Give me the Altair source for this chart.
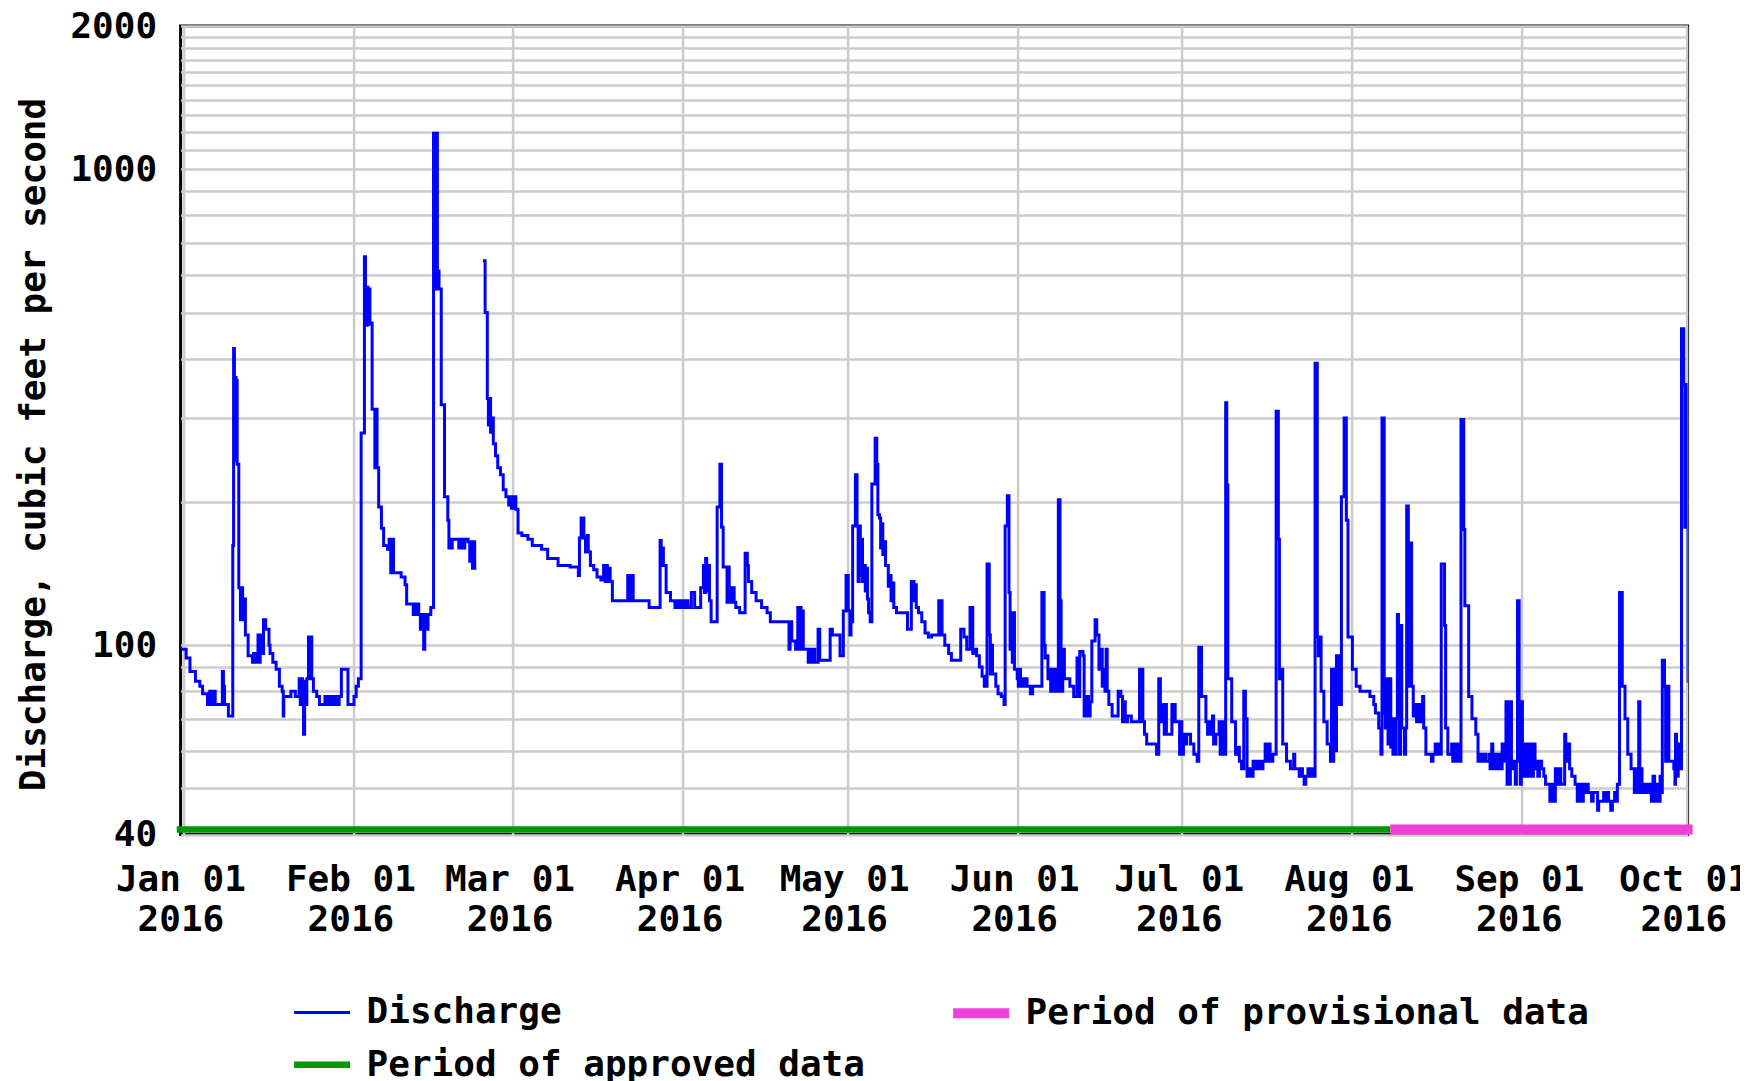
import altair as alt
import pandas as pd

FONT = "DejaVu Sans Mono"

# (days since 2016-01-01 00:00, discharge in cubic feet per second)
discharge_before_gap = [
    (-0.5, 98), (0.5, 94), (1.2, 88), (2.2, 84), (3.0, 82), (3.5, 79), (4.4, 75),
    (4.8, 80), (5.0, 75), (5.2, 80), (5.4, 75), (5.6, 80), (5.8, 75),
    (7.1, 88), (7.3, 82), (7.5, 75), (8.2, 71),
    (9.0, 162), (9.15, 420), (9.3, 360), (9.4, 250), (9.5, 365), (9.6, 245), (9.7, 360), (9.8, 240),
    (10.1, 132), (10.4, 113), (10.6, 132), (10.8, 113), (11.0, 125), (11.3, 105), (11.8, 95),
    (12.6, 92), (12.8, 96), (13.0, 92), (13.2, 96), (13.4, 92), (13.6, 105), (13.8, 92), (14.0, 105), (14.2, 96),
    (14.6, 113), (15.0, 108), (15.6, 100), (15.8, 96), (16.3, 92), (16.9, 89), (17.5, 82), (18.0, 80),
    (18.2, 71), (18.3, 78), (19.6, 80), (20.4, 78),
    (21.1, 85), (21.3, 75), (21.5, 85), (21.7, 75), (21.9, 65), (22.1, 84), (22.3, 75), (22.5, 85),
    (22.8, 104), (23.0, 85), (23.2, 104), (23.4, 85), (23.7, 80), (24.3, 78), (24.8, 75),
    (25.8, 78), (26.1, 75), (26.4, 78), (26.7, 75), (27.0, 78), (27.3, 75), (27.6, 78), (27.9, 75),
    (28.4, 78), (28.8, 89), (30.0, 75), (31.1, 78), (31.5, 82), (31.9, 85),
    (32.4, 279), (33.0, 655), (33.2, 560), (33.35, 470), (33.5, 565), (33.65, 472), (33.8, 560), (34.0, 475),
    (34.4, 313), (34.9, 236), (35.1, 313), (35.3, 236), (35.6, 195), (36.1, 176), (36.5, 162), (37.2, 159),
    (37.5, 167), (37.8, 142), (38.0, 167), (38.3, 142), (39.7, 139), (40.4, 134), (40.7, 122), (41.9, 116),
    (42.4, 122), (42.9, 116), (43.2, 108), (43.5, 116), (43.8, 98), (44.0, 116), (44.3, 108), (44.6, 116),
    (45.1, 120),
    (45.6, 1190), (45.8, 560), (45.9, 1190), (46.0, 560), (46.1, 1190), (46.3, 611), (46.6, 560), (47.0, 320),
    (47.6, 205), (48.2, 183), (48.4, 160), (48.6, 167), (48.8, 160), (49.0, 167), (50.2, 160), (50.5, 167),
    (51.0, 160), (51.3, 167), (51.9, 165), (52.2, 150), (52.5, 165), (52.7, 145), (52.9, 165), (53.1, 145),
    (53.4, 145),
]

discharge_after_gap = [
    (54.6, 642), (55.0, 500), (55.4, 330), (55.6, 290), (55.8, 330), (56.0, 280), (56.2, 300), (56.5, 265),
    (56.9, 250), (57.3, 236), (57.8, 228), (58.3, 212), (58.8, 205), (59.3, 197), (59.6, 205), (59.8, 194),
    (60.0, 205), (60.2, 194), (60.4, 205), (60.6, 193), (61.0, 172), (61.7, 170), (62.8, 167), (63.6, 162),
    (65.3, 159), (66.4, 152), (68.3, 147), (70.5, 146), (72.0, 140), (72.2, 168), (72.5, 185), (73.0, 168),
    (73.3, 157), (73.6, 170), (73.8, 157), (74.2, 147), (74.8, 144), (75.4, 139), (76.1, 137), (76.6, 147),
    (76.9, 136), (77.1, 147), (77.3, 136), (77.5, 145), (77.8, 136), (78.2, 124), (81.0, 140), (81.2, 124),
    (81.4, 140), (81.6, 124), (81.8, 140), (82.0, 124), (84.9, 120), (86.9, 166), (87.1, 147), (87.3, 160),
    (87.5, 147), (88.0, 129), (88.8, 124), (89.6, 120), (89.9, 124), (90.2, 120), (90.5, 124), (90.8, 120),
    (91.1, 124), (91.4, 120), (91.7, 124), (92.0, 120), (92.6, 129), (93.2, 120), (94.3, 132), (94.8, 147),
    (95.0, 129), (95.2, 152), (95.4, 130), (95.6, 147), (95.9, 124), (96.2, 112), (97.3, 195), (97.8, 240),
    (98.1, 177), (98.4, 146), (98.9, 146), (99.1, 123), (99.3, 146), (99.5, 123), (99.8, 132), (100.0, 123),
    (100.2, 132), (100.4, 123), (100.7, 120), (101.4, 117), (102.4, 156), (102.8, 147), (103.0, 136),
    (103.6, 129), (104.4, 124), (105.4, 120), (106.4, 117), (107.0, 112),
    (110.4, 98), (110.6, 112), (110.9, 102), (111.6, 98), (112.0, 120), (112.2, 98), (112.4, 120), (112.6, 98),
    (112.8, 118), (113.0, 98), (113.9, 92), (114.1, 98), (114.3, 92), (114.5, 98), (114.7, 92), (114.9, 98),
    (115.1, 92), (115.7, 108), (116.0, 93), (117.9, 108), (118.3, 105), (119.7, 95), (120.3, 118),
    (120.8, 140), (121.2, 118), (121.5, 105), (121.7, 112), (122.0, 178), (122.5, 228), (122.8, 178),
    (123.0, 136), (123.2, 178), (123.4, 140), (123.6, 167), (123.8, 136), (124.1, 147), (124.3, 130),
    (124.5, 145), (124.7, 125), (124.9, 117), (125.2, 112), (125.5, 218), (126.1, 272), (126.4, 240),
    (126.6, 188), (126.9, 185), (127.1, 160), (127.3, 180), (127.5, 155), (127.8, 165), (128.0, 147),
    (128.3, 147), (128.5, 133), (128.8, 140), (129.0, 124), (129.3, 135), (129.5, 120), (130.0, 117),
    (132.0, 108), (132.7, 136), (133.2, 124), (133.4, 134), (133.6, 120), (134.0, 117), (134.6, 112),
    (135.2, 106), (135.8, 104), (136.4, 105), (137.7, 124), (137.9, 105), (138.1, 124), (138.3, 105),
    (138.8, 100), (139.5, 96), (140.0, 93), (141.7, 108), (142.3, 104), (142.8, 98), (143.4, 120), (143.9, 96),
    (144.4, 98), (144.6, 95), (145.1, 90), (145.6, 86), (146.0, 82), (146.5, 148), (146.9, 105), (147.1, 87),
    (147.3, 100), (147.5, 87), (148.1, 82), (148.5, 79), (149.1, 78), (149.6, 75), (149.8, 178), (150.2, 206),
    (150.5, 129), (150.7, 98), (150.9, 117), (151.1, 92), (151.3, 117), (151.5, 89), (152.0, 85), (152.2, 82),
    (152.4, 89), (152.6, 82), (152.9, 85), (153.2, 82), (153.5, 85), (153.8, 82), (154.4, 79), (154.8, 82),
    (156.5, 129), (156.9, 100), (157.1, 94), (157.4, 95), (157.6, 85), (157.9, 89), (158.1, 80), (158.3, 89),
    (158.5, 80), (158.7, 89), (158.9, 80), (159.1, 89), (159.3, 80), (159.5, 202), (159.8, 124), (160.0, 80),
    (160.3, 98), (160.6, 85), (161.2, 85), (161.6, 82), (162.3, 78), (162.9, 94), (163.1, 78), (163.4, 97),
    (164.0, 95), (164.2, 71),
    (164.4, 78), (164.6, 71), (164.8, 78), (165.0, 71), (165.3, 76), (165.6, 102), (166.2, 113), (166.5, 105),
    (166.9, 89), (167.2, 98), (167.5, 82), (167.8, 89), (168.0, 80), (168.2, 98), (168.4, 80), (168.7, 75),
    (169.3, 71), (170.4, 80), (170.9, 78), (171.2, 69), (171.5, 76), (171.7, 69), (172.1, 71), (172.8, 69),
    (174.3, 89), (174.5, 69), (174.7, 89), (174.9, 69), (175.2, 65), (175.6, 62), (176.9, 62), (177.4, 59),
    (177.8, 85), (178.1, 75), (178.3, 69), (178.6, 75), (178.8, 65), (179.0, 75), (179.2, 65), (179.7, 65),
    (180.2, 75), (180.4, 69), (180.6, 75), (180.8, 69), (181.4, 69), (181.6, 59), (181.8, 69), (182.0, 59),
    (182.3, 65), (182.6, 62), (182.9, 65), (183.6, 62), (184.2, 59), (184.8, 57), (185.1, 99), (185.6, 78),
    (186.4, 69), (186.7, 65), (187.0, 69), (187.3, 65), (187.6, 71), (187.8, 62), (188.2, 65), (188.8, 69),
    (189.0, 59), (189.2, 69), (189.4, 59), (189.6, 69), (189.8, 59), (190.0, 323), (190.2, 217), (190.4, 85),
    (190.9, 85), (191.1, 69), (191.6, 69), (191.8, 59), (192.2, 61), (192.5, 57), (192.9, 55), (193.3, 80),
    (193.6, 70), (193.9, 53), (194.4, 55), (194.6, 53), (195.0, 57), (195.3, 55), (195.6, 57), (195.9, 55),
    (196.2, 57), (196.5, 55), (196.8, 57), (197.2, 62), (197.5, 57), (197.8, 62), (198.1, 57), (198.6, 59),
    (199.2, 310), (199.6, 167), (199.8, 85), (200.2, 89), (200.4, 62), (200.9, 62), (201.1, 57), (201.8, 55),
    (202.4, 59), (202.6, 55), (203.1, 55), (203.4, 53), (203.7, 55), (204.0, 53), (204.3, 51), (204.6, 53),
    (205.0, 55), (205.4, 53), (205.8, 55), (206.1, 53), (206.3, 391), (206.7, 104), (206.9, 95), (207.1, 104),
    (207.4, 80), (207.7, 80), (207.9, 69), (208.3, 69), (208.5, 62), (208.9, 62), (209.1, 57), (209.3, 89),
    (209.5, 57), (209.7, 89), (209.9, 60), (210.2, 95), (210.4, 75), (210.6, 95), (210.8, 75), (211.1, 205),
    (211.6, 300), (212.0, 183), (212.3, 104), (212.9, 104), (213.1, 89), (213.6, 89), (213.8, 82), (214.2, 82),
    (214.5, 80), (216.3, 78), (217.0, 75), (217.3, 72), (217.6, 72), (217.9, 67), (218.1, 67), (218.3, 59),
    (218.5, 300), (218.9, 72), (219.1, 67), (219.4, 85), (219.6, 62), (219.8, 85),
    (220.1, 61), (220.3, 70), (220.5, 59), (220.7, 70), (220.9, 59), (221.1, 70), (221.3, 116), (221.5, 105),
    (221.7, 59), (221.9, 110), (222.1, 67), (222.4, 67), (222.6, 59), (222.8, 67), (223.0, 196), (223.3, 164),
    (223.5, 82), (223.7, 164), (223.9, 82), (224.2, 71), (224.6, 75), (224.8, 69), (225.1, 75), (225.4, 69),
    (225.9, 78), (226.1, 67), (226.5, 59), (227.1, 59), (227.5, 57), (227.8, 59), (228.2, 62), (228.5, 59),
    (228.8, 62), (229.1, 59), (229.3, 148), (229.9, 110), (230.1, 67), (230.5, 59), (231.2, 62), (231.4, 57),
    (231.7, 62), (231.9, 57), (232.2, 62), (232.4, 57), (232.9, 298), (233.4, 175), (233.6, 121), (234.1, 121),
    (234.3, 78), (234.7, 78), (234.9, 70), (235.3, 70), (235.6, 65), (235.8, 65), (236.0, 57), (236.4, 59),
    (236.8, 57), (237.1, 59), (237.4, 57), (238.0, 59), (238.2, 55), (238.5, 62), (238.7, 55), (239.1, 59),
    (239.4, 55), (239.7, 59), (240.0, 55), (240.4, 62), (240.6, 57), (241.1, 76), (241.3, 51), (241.5, 76),
    (241.7, 51), (241.9, 76), (242.1, 55), (242.6, 57), (242.8, 51), (243.0, 57), (243.2, 124), (243.5, 57),
    (243.7, 51), (243.9, 76), (244.1, 53), (244.4, 62), (244.6, 53), (244.9, 62), (245.2, 53), (245.5, 62),
    (245.8, 53), (246.1, 62), (246.4, 55), (246.7, 57), (246.9, 53), (247.2, 57), (247.6, 55), (248.0, 53),
    (248.3, 51), (248.9, 51), (249.1, 47), (249.4, 51), (249.7, 47), (250.1, 55), (250.4, 51), (250.8, 55),
    (251.1, 51), (251.8, 65), (252.0, 57), (252.4, 62), (252.7, 55), (253.1, 53), (253.7, 51), (254.1, 47),
    (254.4, 51), (254.7, 47), (255.2, 51), (255.5, 49), (255.8, 51), (256.1, 49), (256.5, 49), (256.7, 47),
    (257.0, 49), (257.8, 45), (258.0, 47), (258.4, 47), (258.9, 49), (259.2, 47), (259.5, 49), (259.8, 47),
    (260.2, 45), (260.5, 47), (260.9, 49), (261.1, 47), (261.4, 51), (261.8, 129), (262.3, 82), (262.8, 70),
    (263.3, 59), (263.9, 55), (264.5, 49), (264.7, 55), (264.9, 49), (265.1, 55), (265.3, 76), (265.5, 49),
    (265.7, 55), (265.9, 49), (266.2, 51), (266.5, 49), (266.8, 51), (267.1, 49), (267.4, 51), (267.6, 47),
    (267.9, 53), (268.2, 47), (268.5, 51), (268.8, 47), (269.2, 53), (269.4, 49), (269.6, 93), (270.0, 82),
    (270.2, 57), (270.6, 82), (270.8, 57), (271.7, 55), (271.9, 51), (272.0, 65), (272.2, 53), (272.5, 62),
    (272.7, 55), (273.1, 462), (273.5, 353), (273.7, 177), (273.9, 353), (274.1, 178), (274.3, 84),
    (274.5, 178), (274.7, 86), (275.2, 86),
]

series_names = ["Discharge", "Period of approved data", "Period of provisional data"]
series_colors = ["#0000ff", "#009900", "#f040d8"]
series_widths = [3, 10, 10]

period_names = ["Period of approved data", "Period of provisional data"]
period_starts = ["2015-12-30T19:00:00", "2016-08-08T00:00:00"]
period_ends = ["2016-08-08T00:00:00", "2016-10-02T03:00:00"]

month_ticks = [alt.DateTime(year=2016, month=m, date=1) for m in range(1, 11)]
y_grid_values = [40, 50, 60, 70, 80, 90, 100, 200, 300, 400, 500, 600, 700, 800, 900, 1000,
                 1100, 1200, 1300, 1400, 1500, 1600, 1700, 1800, 1900, 2000]
y_label_values = [40, 100, 1000, 2000]

start = pd.Timestamp("2016-01-01")


def to_frame(points, segment):
    return pd.DataFrame({
        "time": [start + pd.Timedelta(days=d) for d, _ in points],
        "cfs": [v for _, v in points],
        "series": "Discharge",
        "segment": segment,
    })


flow = pd.concat([to_frame(discharge_before_gap, 1), to_frame(discharge_after_gap, 2)], ignore_index=True)
periods = pd.DataFrame({
    "series": period_names,
    "start": pd.to_datetime(period_starts),
    "end": pd.to_datetime(period_ends),
})

legend = alt.Legend(
    orient="none", legendX=108.5, legendY=954.2, columns=2, columnPadding=68, rowPadding=0,
    gridAlign="each", symbolType="stroke", symbolSize=3136, labelFont=FONT, labelFontSize=36,
    labelFontWeight="bold", labelColor="black", labelLimit=1200, labelOffset=11.5, padding=0,
)

color = alt.Color("series:N", scale=alt.Scale(domain=series_names, range=series_colors),
                  title=None, legend=legend)
stroke_w = alt.StrokeWidth("series:N", scale=alt.Scale(domain=series_names, range=series_widths),
                           title=None, legend=legend)

x_scale = alt.Scale(domain=[alt.DateTime(year=2015, month=12, date=31, hours=11, minutes=45),
                            alt.DateTime(year=2016, month=10, date=1, hours=5)])
x_axis = alt.Axis(
    values=month_ticks, grid=True, gridColor="#cccccc", gridWidth=2.5, ticks=False, domain=False,
    labelExpr="[timeFormat(datum.value, '%b %d'), timeFormat(datum.value, '%Y')]",
    labelFont=FONT, labelFontSize=36, labelFontWeight="bold", labelColor="black",
    labelPadding=28.5, labelLineHeight=40, labelFlush=False, labelOverlap=False,
    labelAlign="center", labelBaseline="top", labelOffset=-3,
)
y_scale = alt.Scale(type="log", domain=[40, 2000], nice=False)
y_axis = alt.Axis(
    values=y_grid_values, grid=True, gridColor="#cccccc", gridWidth=2.5, ticks=False, domain=False,
    labelExpr="indexof([40, 100, 1000, 2000], datum.value) >= 0 ? '' + datum.value : ''",
    labelFont=FONT, labelFontSize=36, labelFontWeight="bold", labelColor="black",
    labelPadding=24, labelOverlap=False,
    titleFont=FONT, titleFontSize=36, titleFontWeight="bold", titleColor="black",
    titleX=-147, titleY=418, titleAngle=270, titleAlign="center", titleBaseline="middle",
)

line = alt.Chart(flow).mark_line(interpolate="step-after", clip=True).encode(
    x=alt.X("time:T", scale=x_scale, axis=x_axis, title=None),
    y=alt.Y("cfs:Q", scale=y_scale, axis=y_axis, title="Discharge, cubic feet per second"),
    color=color,
    strokeWidth=stroke_w,
    detail="segment:N",
)

bars = alt.Chart(periods).mark_rule(clip=False, strokeCap="butt").encode(
    x=alt.X("start:T"),
    x2="end:T",
    y=alt.value(803.5),
    color=color,
    strokeWidth=stroke_w,
)

chart = alt.layer(line, bars).properties(
    width=1507, height=808.5,
    autosize=alt.AutoSizeParams(type="none"),
    padding={"left": 172.6, "top": 18, "right": 52, "bottom": 246.5},
    background="white",
).configure_view(stroke="black", strokeWidth=3)

chart.save("out.html", embed_options={"renderer": "svg", "actions": False})
